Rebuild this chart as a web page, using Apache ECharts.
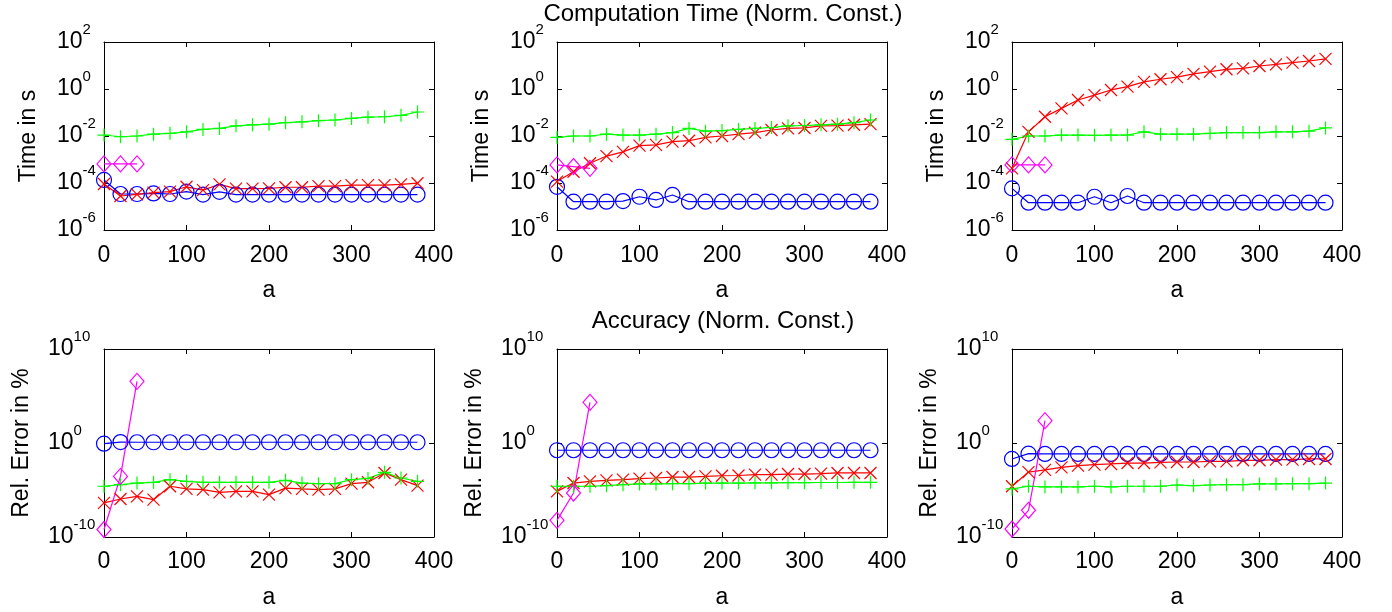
<!DOCTYPE html>
<html><head><meta charset="utf-8">
<script src="https://cdn.jsdelivr.net/npm/echarts@6/dist/echarts.min.js"></script>
<style>html,body{margin:0;padding:0;background:#fff}#c{width:1392px;height:612px}</style>
</head><body><div id="c"></div>
<script>
// ---------- data ----------
const aValues = [0,20,40,60,80,100,120,140,160,180,200,220,240,260,280,300,320,340,360,380];
const aDiamond = [0,20,40];
const timeTicks = [1e-6,1e-4,1e-2,1,1e2];
const errorTicks = [1e-10,1,1e10];

// Computation time, panel 1
const time1Blue = [1.35e-4,3.4e-5,3.4e-5,3.6e-5,3.4e-5,4.3e-5,3.2e-5,4.2e-5,3.2e-5,3.2e-5,3.2e-5,3.2e-5,3.2e-5,3.2e-5,3.2e-5,3.2e-5,3.2e-5,3.2e-5,3.2e-5,3.2e-5];
const time1Red = [9.1e-5,2.8e-5,3.3e-5,3.9e-5,4.3e-5,6.9e-5,5.0e-5,8.7e-5,5.8e-5,5.8e-5,5.9e-5,6.6e-5,6.6e-5,7.4e-5,7.4e-5,8.1e-5,8.1e-5,8.1e-5,8.7e-5,9.8e-5];
const time1Green = [1.1e-2,9.3e-3,1.0e-2,1.2e-2,1.3e-2,1.5e-2,1.9e-2,2.1e-2,2.7e-2,3.0e-2,3.2e-2,3.7e-2,4.0e-2,4.5e-2,4.8e-2,5.6e-2,6.3e-2,6.6e-2,7.6e-2,1.05e-1];
const time1Magenta = [6.5e-4,6.5e-4,6.5e-4];
// panel 2
const time2Blue = [6.9e-5,1.6e-5,1.6e-5,1.6e-5,1.7e-5,2.6e-5,1.9e-5,3.1e-5,1.6e-5,1.6e-5,1.6e-5,1.6e-5,1.6e-5,1.6e-5,1.6e-5,1.6e-5,1.6e-5,1.6e-5,1.6e-5,1.6e-5];
const time2Red = [1.15e-4,3.0e-4,6.9e-4,1.4e-3,2.1e-3,3.9e-3,4.2e-3,5.8e-3,6.3e-3,8.7e-3,1.0e-2,1.2e-2,1.4e-2,1.8e-2,2.1e-2,2.2e-2,2.7e-2,2.75e-2,3.0e-2,3.2e-2];
const time2Green = [8.7e-3,1.0e-2,1.0e-2,1.2e-2,1.1e-2,1.1e-2,1.2e-2,1.4e-2,2.1e-2,1.6e-2,1.7e-2,1.9e-2,2.1e-2,2.3e-2,2.7e-2,2.8e-2,3.0e-2,3.2e-2,3.7e-2,4.8e-2];
const time2Magenta = [5.9e-4,5.0e-4,4.2e-4];
// panel 3
const time3Blue = [5.9e-5,1.45e-5,1.45e-5,1.45e-5,1.45e-5,2.6e-5,1.45e-5,2.8e-5,1.45e-5,1.45e-5,1.45e-5,1.45e-5,1.45e-5,1.45e-5,1.45e-5,1.45e-5,1.45e-5,1.45e-5,1.45e-5,1.45e-5];
const time3Red = [4.2e-4,1.5e-2,6.6e-2,0.15,0.34,0.55,0.91,1.26,2.0,2.6,3.2,4.4,5.5,6.9,7.6,9.5,11.2,13.2,15.5,19];
const time3Green = [7.2e-3,1.0e-2,1.0e-2,1.1e-2,1.1e-2,1.07e-2,1.1e-2,1.1e-2,1.5e-2,1.2e-2,1.2e-2,1.2e-2,1.3e-2,1.4e-2,1.4e-2,1.4e-2,1.5e-2,1.5e-2,1.6e-2,2.2e-2];
const time3Magenta = [5.9e-4,5.9e-4,5.9e-4];

// Accuracy, panel 4
const err1Blue = [0.85,1.26,1.2,1.2,1.2,1.2,1.2,1.2,1.2,1.2,1.2,1.2,1.2,1.2,1.2,1.2,1.2,1.2,1.2,1.2];
const err1Red = [4.2e-7,1.1e-6,2.1e-6,9.3e-7,2.5e-5,1.3e-5,1.1e-5,5.6e-6,7.2e-6,7.2e-6,3.2e-6,1.6e-5,1.3e-5,1.1e-5,1.3e-5,4.7e-5,6.6e-5,6.5e-4,1.26e-4,2.9e-5];
const err1Green = [2.5e-5,3.7e-5,5.5e-5,6.6e-5,1.26e-4,8.3e-5,6.6e-5,6.6e-5,6.6e-5,6.6e-5,6.6e-5,1.07e-4,5.5e-5,4.7e-5,4.7e-5,1.26e-4,1.7e-4,7.6e-4,1.9e-4,8.3e-5];
const err1Magenta = [6.3e-10,2.8e-4,3.6e6];
// panel 5
const err2Blue = [0.17,0.17,0.17,0.17,0.17,0.17,0.17,0.17,0.17,0.17,0.17,0.17,0.17,0.17,0.17,0.17,0.17,0.17,0.17,0.17];
const err2Red = [7.2e-6,5.5e-5,8.3e-5,1.07e-4,1.26e-4,1.6e-4,1.9e-4,2.4e-4,2.4e-4,2.8e-4,3.3e-4,3.5e-4,4.3e-4,4.3e-4,5.0e-4,5.0e-4,5.5e-4,6.5e-4,6.5e-4,6.5e-4];
const err2Green = [2.5e-5,2.5e-5,2.5e-5,2.9e-5,3.7e-5,4.4e-5,4.4e-5,4.7e-5,4.7e-5,5.5e-5,5.5e-5,5.5e-5,5.8e-5,5.8e-5,6.0e-5,6.0e-5,6.3e-5,6.3e-5,6.6e-5,6.6e-5];
const err2Magenta = [5.9e-9,4.8e-6,2.1e4];
// panel 6
const err3Blue = [0.02,0.074,0.068,0.068,0.068,0.068,0.068,0.068,0.068,0.068,0.068,0.068,0.068,0.068,0.068,0.068,0.068,0.068,0.068,0.068];
const err3Red = [2.5e-5,8.1e-4,1.4e-3,2.6e-3,3.9e-3,5.0e-3,5.9e-3,7.4e-3,7.4e-3,8.7e-3,9.5e-3,9.5e-3,1.1e-2,1.1e-2,1.45e-2,1.45e-2,1.7e-2,1.7e-2,2.0e-2,2.0e-2];
const err3Green = [1.3e-5,2.5e-5,2.1e-5,2.1e-5,2.1e-5,2.5e-5,2.1e-5,2.5e-5,2.5e-5,2.5e-5,3.4e-5,2.9e-5,3.4e-5,3.7e-5,3.7e-5,4.4e-5,4.4e-5,4.7e-5,4.7e-5,5.5e-5];
const err3Magenta = [7.1e-10,6.9e-8,240];

const panels = [
  {blue: time1Blue, red: time1Red, green: time1Green, magenta: time1Magenta, err: false},
  {blue: time2Blue, red: time2Red, green: time2Green, magenta: time2Magenta, err: false},
  {blue: time3Blue, red: time3Red, green: time3Green, magenta: time3Magenta, err: false},
  {blue: err1Blue, red: err1Red, green: err1Green, magenta: err1Magenta, err: true},
  {blue: err2Blue, red: err2Red, green: err2Green, magenta: err2Magenta, err: true},
  {blue: err3Blue, red: err3Red, green: err3Green, magenta: err3Magenta, err: true}
];

// ---------- layout ----------
const FONT = 'Liberation Sans, Arial, Helvetica, sans-serif';
const colLeft = [104, 557, 1012];
const rowTop = [42, 349];
const PW = 330, PH = 188;
const BLUE = '#0000ff', RED = '#ff0000', GREEN = '#00ff00', MAG = '#ff00ff';
const CROSS = 'path://M0,0L10,10M10,0L0,10';
const PLUS = 'path://M5,0L5,10M0,5L10,5';
const LW = 1.2;

const grids = [], xAxes = [], yAxes = [], series = [];
const zip = (xs, ys) => ys.map((v, i) => [xs[i], v]);
const yFmt = v => '{b|10}{s|' + Math.round(Math.log10(v)) + '}';

panels.forEach((p, i) => {
  const row = i < 3 ? 0 : 1, col = i % 3;
  grids.push({left: colLeft[col], top: rowTop[row], width: PW, height: PH});
  const axLine = {show: true, onZero: false, lineStyle: {color: '#000', width: 1}};
  const tick = {show: true, inside: true, length: 5, lineStyle: {color: '#000', width: 1}};
  xAxes.push({
    type: 'value', gridIndex: i, min: 0, max: 400, interval: 100, position: 'bottom',
    axisLine: axLine, axisTick: tick, splitLine: {show: false},
    axisLabel: {color: '#000', fontSize: 23, fontFamily: FONT, margin: row ? 13 : 14},
    name: 'a', nameLocation: 'middle', nameGap: 49,
    nameTextStyle: {color: '#000', fontSize: 23, fontFamily: FONT}
  });
  xAxes.push({
    type: 'value', gridIndex: i, min: 0, max: 400, interval: 100, position: 'top',
    axisLine: axLine, axisTick: tick, splitLine: {show: false}, axisLabel: {show: false}
  });
  const ticks = p.err ? errorTicks : timeTicks;
  const yMin = p.err ? 1e-10 : 1e-6, yMax = p.err ? 1e10 : 1e2;
  yAxes.push({
    type: 'log', logBase: 10, gridIndex: i, min: yMin, max: yMax, position: 'left',
    axisLine: axLine, axisTick: Object.assign({customValues: ticks}, tick), splitLine: {show: false},
    minorTick: {show: false},
    axisLabel: {
      customValues: ticks, align: 'left', margin: p.err ? 56 : 47, formatter: yFmt,
      rich: {
        b: {fontSize: 23, lineHeight: 40, fontFamily: FONT, color: '#000'},
        s: {fontSize: 15, lineHeight: 15, verticalAlign: 'top', fontFamily: FONT, color: '#000'}
      }
    },
    name: p.err ? 'Rel. Error in %' : 'Time in s', nameLocation: 'middle', nameGap: p.err ? 71 : 64,
    nameTextStyle: {color: '#000', fontSize: 23, fontFamily: FONT}
  });
  yAxes.push({
    type: 'log', logBase: 10, gridIndex: i, min: yMin, max: yMax, position: 'right',
    axisLine: axLine, axisTick: Object.assign({customValues: ticks}, tick), splitLine: {show: false},
    axisLabel: {show: false}
  });
  const base = {type: 'line', xAxisIndex: 2 * i, yAxisIndex: 2 * i, clip: false, silent: true,
    showAllSymbol: true, emphasis: {disabled: true}};
  series.push(Object.assign({}, base, {
    data: zip(aValues, p.blue), symbol: 'circle', symbolSize: 15,
    itemStyle: {color: 'rgba(255,255,255,0)', borderColor: BLUE, borderWidth: LW},
    lineStyle: {color: BLUE, width: LW}
  }));
  series.push(Object.assign({}, base, {
    data: zip(aValues, p.red), symbol: CROSS, symbolSize: 12,
    itemStyle: {color: RED, borderColor: RED, borderWidth: LW},
    lineStyle: {color: RED, width: LW}
  }));
  series.push(Object.assign({}, base, {
    data: zip(aValues, p.green), symbol: PLUS, symbolSize: 13,
    itemStyle: {color: GREEN, borderColor: GREEN, borderWidth: LW},
    lineStyle: {color: GREEN, width: LW}
  }));
  series.push(Object.assign({}, base, {
    data: zip(aDiamond, p.magenta), symbol: 'diamond', symbolSize: [14, 16],
    itemStyle: {color: 'rgba(255,255,255,0)', borderColor: MAG, borderWidth: LW},
    lineStyle: {color: MAG, width: LW}
  }));
});

const chart = echarts.init(document.getElementById('c'), null, {renderer: 'canvas'});
chart.setOption({
  animation: false,
  backgroundColor: '#fff',
  grid: grids, xAxis: xAxes, yAxis: yAxes, series: series,
  graphic: [
    {type: 'text', x: 723, y: 14, style: {text: 'Computation Time (Norm. Const.)', font: '24px ' + FONT, fill: '#000', textAlign: 'center', textVerticalAlign: 'middle'}},
    {type: 'text', x: 723, y: 321, style: {text: 'Accuracy (Norm. Const.)', font: '24px ' + FONT, fill: '#000', textAlign: 'center', textVerticalAlign: 'middle'}}
  ]
});
</script>
</body></html>
